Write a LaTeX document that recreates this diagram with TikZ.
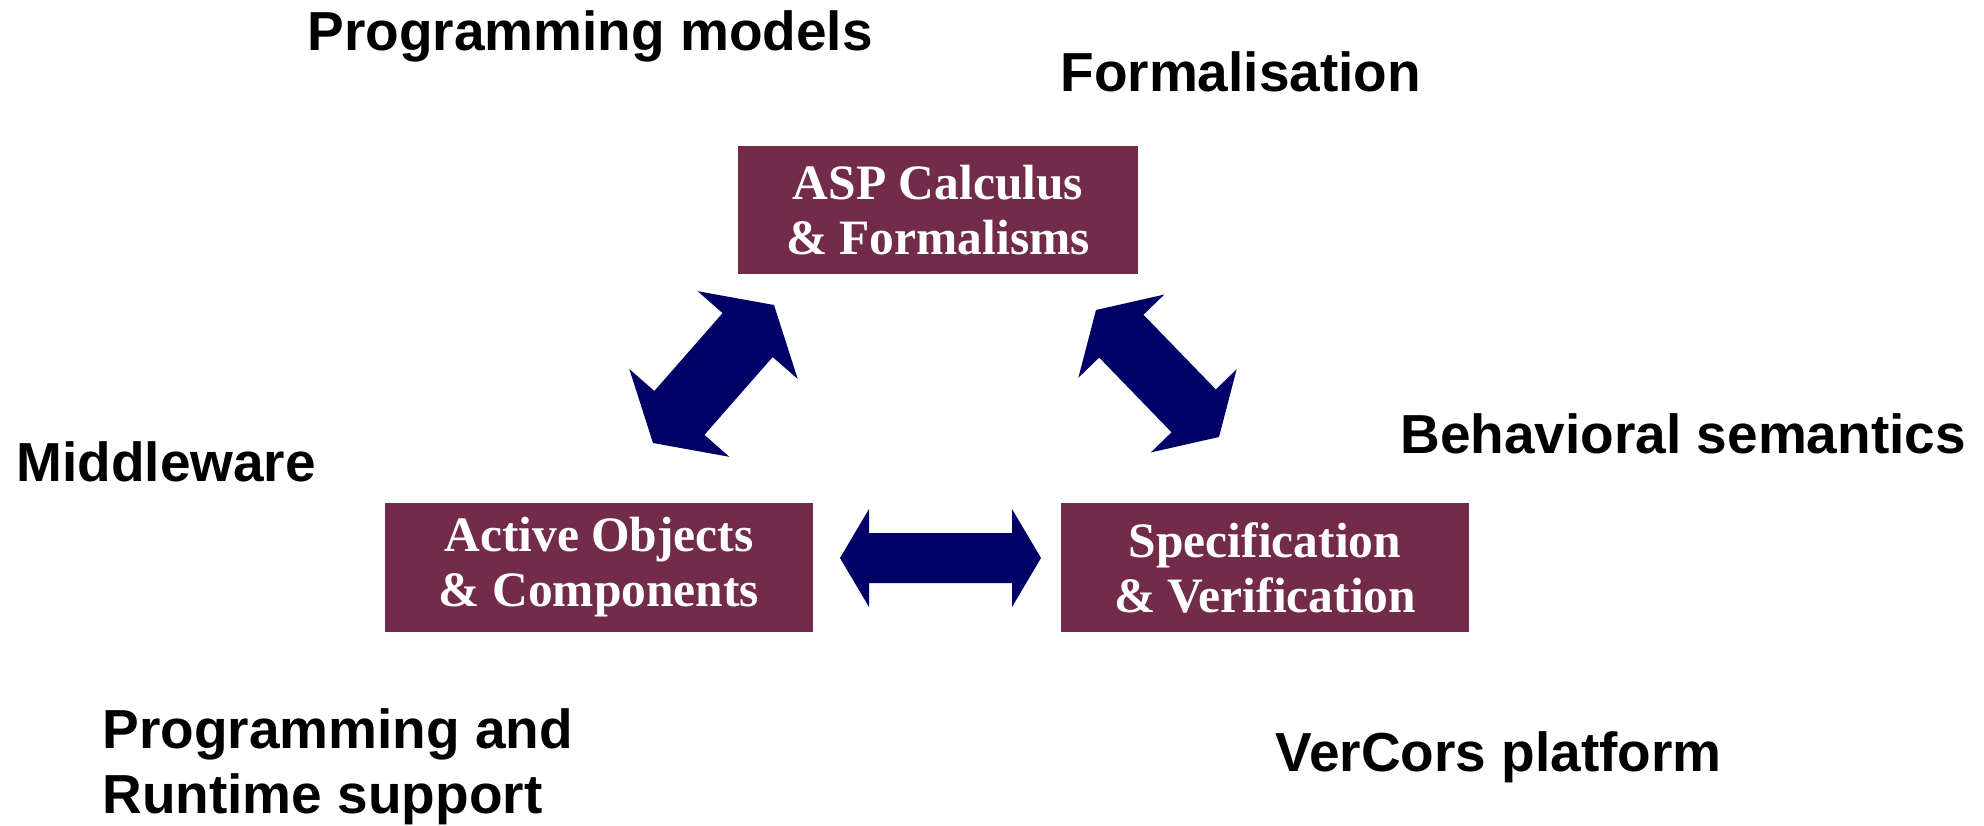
\documentclass[tikz,border=0pt]{standalone}
\usepackage{fontspec}
\setmainfont{Liberation Serif}
\newfontfamily\labelsans{Liberation Sans}
\usetikzlibrary{calc}

\definecolor{boxred}{HTML}{722B48}
\definecolor{arrownavy}{HTML}{000066}

% Double-headed block arrow between two named points.
% #1 start, #2 end, #3 head length, #4 head half-width, #5 shaft half-width
\newcommand\dblblock[5]{%
  \fill[arrownavy] (#1)
    -- ($(#1)!#3!(#2)!#4!90:(#2)$)
    -- ($(#1)!#3!(#2)!#5!90:(#2)$)
    -- ($(#2)!#3!(#1)!#5!-90:(#1)$)
    -- ($(#2)!#3!(#1)!#4!-90:(#1)$)
    -- (#2)
    -- ($(#2)!#3!(#1)!#4!90:(#1)$)
    -- ($(#2)!#3!(#1)!#5!90:(#1)$)
    -- ($(#1)!#3!(#2)!#5!-90:(#2)$)
    -- ($(#1)!#3!(#2)!#4!-90:(#2)$)
    -- cycle;}

\tikzset{
  topic/.style={fill=boxred, text=white, inner sep=0pt, align=center,
    font=\fontsize{24.75pt}{27.5pt}\selectfont\bfseries},
  area/.style={anchor=base west, inner sep=0pt, align=left,
    font=\labelsans\fontsize{27.5pt}{32.5pt}\selectfont\bfseries}
}

\begin{document}
\begin{tikzpicture}[x=0.5pt, y=-0.5pt]
  \useasboundingbox (0,0) rectangle (1984,825);

  % research topics
  \node[topic, minimum width=200pt, minimum height=64pt] (asp) at (938,210)
    {ASP Calculus\\\& Formalisms};
  \node[topic, minimum width=214pt, minimum height=64.5pt] (ao) at (599,567.5)
    {Active Objects\\\& Components};
  \node[topic, minimum width=204pt, minimum height=64.5pt] (spec) at (1265,567.5)
    {Specification\\\& Verification};

  % arrow end points between the topics
  \coordinate (aoup)   at (653,443);
  \coordinate (aspdl)  at (774,305);
  \coordinate (aspdr)  at (1096,310);
  \coordinate (specup) at (1219,437);
  \coordinate (aoright) at (840,558);
  \coordinate (specleft) at (1041,558);

  \dblblock{aoup}{aspdl}{20pt}{33.3pt}{16.65pt}
  \dblblock{aspdr}{specup}{18.2pt}{29.9pt}{15.4pt}
  \dblblock{aoright}{specleft}{14.5pt}{24.5pt}{12.5pt}

  % surrounding themes (a multi-line node sits on its last baseline)
  \node[area] (progmodels) at (307,50)   {Programming models};
  \node[area] (formal)     at (1060,91)  {Formalisation};
  \node[area] (behav)      at (1400,453) {Behavioral semantics};
  \node[area] (middle)     at (16,481)   {Middleware};
  \node[area] (runtime)    at (102,813)  {Programming and\\Runtime support};
  \node[area] (vercors)    at (1275,771) {VerCors platform};
\end{tikzpicture}
\end{document}
